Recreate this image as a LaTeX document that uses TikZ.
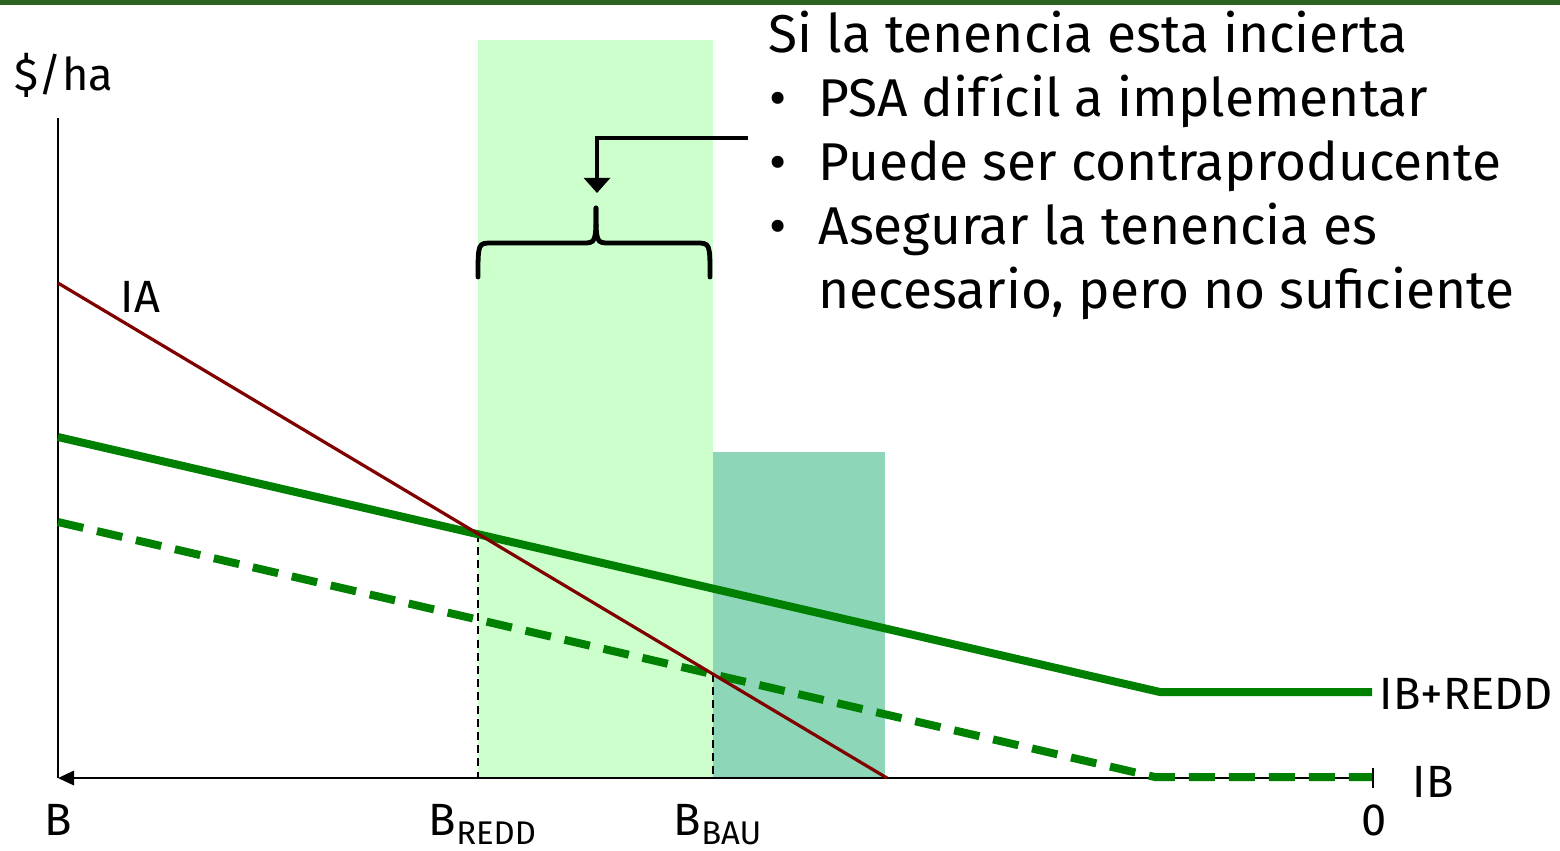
\documentclass[tikz,border=0pt]{standalone}
\usepackage{fontspec}
\setmainfont{Fira Sans}
\usetikzlibrary{arrows.meta}

\definecolor{topbar}{HTML}{2A6420}
\definecolor{zonelight}{HTML}{CCFFCC}
\definecolor{zonebau}{HTML}{8DD6B8}
\definecolor{iared}{HTML}{800000}
\definecolor{ibgreen}{HTML}{008000}

\begin{document}
\begin{tikzpicture}[x=0.25pt,y=-0.25pt,
    axis/.style={line width=0.5pt,draw=black},
    iacurve/.style={line width=0.8pt,draw=iared},
    ibcurve/.style={line width=2pt,draw=ibgreen},
    ibdash/.style={ibcurve,dash pattern=on 6.5pt off 3.5pt},
    guide/.style={line width=0.6pt,dash pattern=on 2pt off 1.3pt},
    callout/.style={line width=1.2pt,-{Triangle[length=3.8pt,width=6.5pt]}},
    lbl/.style={font=\fontsize{11.3}{14}\selectfont,inner sep=0pt},
    note/.style={font=\fontsize{13.3}{16}\selectfont,inner sep=0pt,anchor=base west},
    >=Latex
  ]
  \useasboundingbox (0,0) rectangle (1560,850);
  \fill[topbar] (0,0) rectangle (1560,5);

  % shaded zones
  \fill[zonelight] (478,40) rectangle (713,778);
  \fill[zonebau] (713,452) rectangle (885,778);

  % axes
  \coordinate (origin) at (58,778);
  \coordinate (ytop) at (58,118);
  \coordinate (xend) at (1373,778);
  \draw[axis] (ytop) -- (origin);
  \draw[axis,-{Triangle[length=4pt,width=3.6pt]}] (xend) -- (origin);
  \draw[axis] ([yshift=2.5pt]xend) -- ([yshift=-2.5pt]xend);

  % curve points
  \coordinate (ia0) at (58,283);
  \coordinate (ia1) at (887,778);
  \coordinate (redd0) at (58,437);
  \coordinate (redd1) at (1160,692);
  \coordinate (redd2) at (1372,692);
  \coordinate (ib0) at (58,522);
  \coordinate (ib1) at (1155,777);
  \coordinate (ib2) at (1372,777);
  \coordinate (xredd) at (478,534);
  \coordinate (xbau) at (713,674);

  \draw[guide] (xredd) -- (xredd |- origin);
  \draw[guide] (xbau) -- (xbau |- origin);

  \draw[ibdash] (ib0) -- (ib1) -- (ib2);
  \draw[ibcurve] (redd0) -- (redd1) -- (redd2);
  \draw[iacurve] (ia0) -- (ia1);

  % labels
  \node[lbl,anchor=base west] (yunit) at (14,90) {\$/ha};
  \node[lbl,anchor=base west] (ialbl) at (120,312) {IA};
  \node[lbl,anchor=base west] (redlbl) at (1379,709) {IB+REDD};
  \node[lbl,anchor=base west] (iblbl) at (1412,797) {IB};
  \node[lbl,anchor=base] (blbl) at (58,835) {B};
  \node[lbl,anchor=base] (zerolbl) at (1374,835) {0};
  \node[lbl,anchor=base west] (bredd) at (428,835)
    {B\raisebox{-0.4ex}{\fontsize{8.2}{10}\selectfont REDD}};
  \node[lbl,anchor=base west] (bbau) at (673,835)
    {B\raisebox{-0.4ex}{\fontsize{8.2}{10}\selectfont BAU}};

  % brace over the REDD zone
  \draw[line width=1.2pt,line cap=round]
    (478,277) .. controls (478,243) .. (492,243) -- (582,243)
    .. controls (596,243) .. (596,208);
  \draw[line width=1.2pt,line cap=round]
    (710,277) .. controls (710,243) .. (696,243) -- (610,243)
    .. controls (596,243) .. (596,208);
  \coordinate (notefoot) at (748,138);
  \coordinate (bracetip) at (597,193);
  \draw[callout] (notefoot) -| (bracetip);

  % note text
  \node[note] (head) at (768,52) {Si la tenencia esta incierta};
  \node[note] (item1) at (769,116) {\makebox[12.2pt][l]{•}PSA difícil a implementar};
  \node[note] (item2) at (769,180) {\makebox[12.2pt][l]{•}Puede ser contraproducente};
  \node[note] (item3) at (769,244) {\makebox[12.2pt][l]{•}Asegurar la tenencia es};
  \node[note] (item4) at (818,308) {necesario, pero no suficiente};
\end{tikzpicture}
\end{document}
